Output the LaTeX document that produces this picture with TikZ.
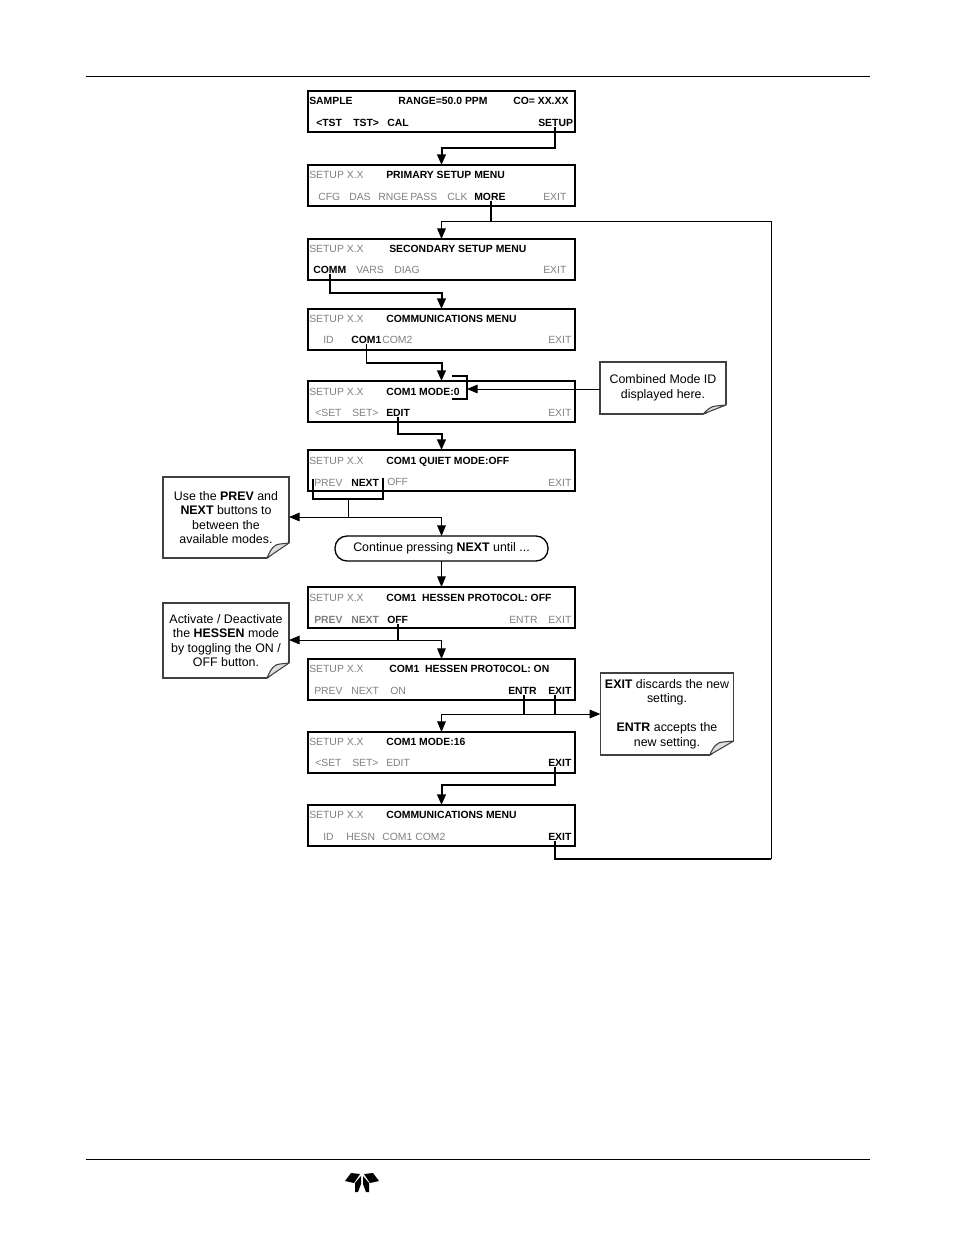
\documentclass[tikz,border=0pt]{standalone}
\usepackage{fontspec}
\setmainfont{Liberation Sans}
\usetikzlibrary{positioning, arrows.meta, calc}

\definecolor{dimtext}{gray}{0.5}
\definecolor{noteline}{gray}{0.25}

% turned-up corner of a note: node, corner width, corner height
\newcommand{\notefold}[3]{
    \fill[white] ($(#1.south east)+(-#2,1)$) -- ($(#1.south east)+(1,1)$) -- ($(#1.south east)+(1,-#3)$) -- cycle;
    \draw[draw=noteline, fill=gray!25, line width=0.8pt, line join=round]
        ($(#1.south east)+(-#2,0)$) .. controls ($(#1.south east)+(-#2+4,-#3+5)$) and ($(#1.south east)+(-#2+8,-#3+1)$) .. ($(#1.south east)+(-#2+13,-#3+1)$)
        -- ($(#1.south east)+(0,-#3)$) -- cycle;
}

\begin{document}
\begin{tikzpicture}[
    x=0.75pt,
    y=-0.75pt,
    panel/.style={
        rectangle,
        draw=black,
        line width=1.5pt,
        minimum width=200.25pt,
        minimum height=30.75pt,
        outer sep=0pt,
        inner sep=0pt
    },
    dim/.style={
        anchor=base west,
        yshift=-3.2pt,
        inner sep=0pt,
        text=dimtext,
        font=\fontsize{7.8}{9}\selectfont
    },
    dimb/.style={
        dim,
        font=\fontsize{7.8}{9}\selectfont\bfseries
    },
    lit/.style={
        anchor=base west,
        yshift=-3.2pt,
        inner sep=0pt,
        font=\fontsize{7.8}{9}\selectfont\bfseries
    },
    note/.style={
        rectangle,
        draw=noteline,
        line width=0.9pt,
        align=center,
        inner sep=0pt,
        outer sep=0pt,
        font=\fontsize{9.3}{10.9}\selectfont
    },
    pill/.style={
        rectangle,
        rounded corners=9pt,
        draw=black,
        line width=1pt,
        minimum width=159.75pt,
        minimum height=18.75pt,
        inner sep=0pt,
        outer sep=0pt,
        font=\fontsize{9.3}{10.9}\selectfont
    },
    flow/.style={
        -{Triangle[length=8pt,width=6.5pt]},
        line width=1.5pt
    },
    flowthin/.style={
        -{Triangle[length=8pt,width=6.5pt]},
        line width=0.7pt
    },
    wire/.style={
        line width=1.5pt
    },
    wirethin/.style={
        line width=0.7pt
    },
    rule/.style={
        line width=0.6pt
    }
]
    \useasboundingbox (0,0) rectangle (954,1235);

    % -- Page rules and logo --
    \coordinate (headL) at (86,76);
    \coordinate (headR) at (870,76);
    \coordinate (footL) at (86,1159);
    \coordinate (footR) at (870,1159);
    \draw[rule] (headL) -- (headR);
    \draw[rule] (footL) -- (footR);
    \fill (360,1174) -- (351,1173) -- (345,1181) -- (354,1183) -- cycle;
    \fill (361,1176) -- (355,1183) -- (355,1192) -- (358,1192) -- (361,1184) -- cycle;
    \fill (364,1174) -- (373,1173) -- (379,1181) -- (370,1183) -- cycle;
    \fill (363,1176) -- (369,1183) -- (369,1192) -- (366,1192) -- (363,1184) -- cycle;

    % -- Display panels --
    \node[panel] (panel0) at (441.5,111.5) {};
    \node[panel, below=24.75pt of panel0] (panel1) {};
    \node[panel, below=24.75pt of panel1] (panel2) {};
    \node[panel, below=21.75pt of panel2] (panel3) {};
    \node[panel, below=23.25pt of panel3] (panel4) {};
    \node[panel, below=21pt of panel4] (panel5) {};
    \node[pill, below=33.75pt of panel5] (cont) {Continue pressing \textbf{NEXT} until ...};
    \node[panel, below=19.5pt of cont] (panel6) {};
    \node[panel, below=23.25pt of panel6] (panel7) {};
    \node[panel, below=24pt of panel7] (panel8) {};
    \node[panel, below=24pt of panel8] (panel9) {};

    % -- Panel 0: sample --
    \node[lit] (sample) at (309,100) {SAMPLE};
    \node[lit] (range) at (398,100) {RANGE=50.0 PPM};
    \node[lit] (conc) at (513,100) {CO= XX.XX};
    \node[lit] (tstL) at (316,122) {<TST};
    \node[lit] (tstR) at (353,122) {TST>};
    \node[lit] (cal) at (387,122) {CAL};
    \node[lit] (setup) at (538,122) {SETUP};

    % -- Panel 1: primary setup --
    \node[dim] (ver1) at (309,174) {SETUP X.X};
    \node[lit] (title1) at (386,174) {PRIMARY SETUP MENU};
    \node[dim] (cfg) at (318,196) {CFG};
    \node[dim] (das) at (349,196) {DAS};
    \node[dim] (rnge) at (378,196) {RNGE};
    \node[dim] (pass) at (410,196) {PASS};
    \node[dim] (clk) at (447,196) {CLK};
    \node[lit] (more) at (474,196) {MORE};
    \node[dim] (exit1) at (543,196) {EXIT};

    % -- Panel 2: secondary setup --
    \node[dim] (ver2) at (309,248) {SETUP X.X};
    \node[lit] (title2) at (389,248) {SECONDARY SETUP MENU};
    \node[lit] (comm) at (313,269) {COMM};
    \node[dim] (vars) at (356,269) {VARS};
    \node[dim] (diag) at (394,269) {DIAG};
    \node[dim] (exit2) at (543,269) {EXIT};

    % -- Panel 3: communications --
    \node[dim] (ver3) at (309,318) {SETUP X.X};
    \node[lit] (title3) at (386,318) {COMMUNICATIONS MENU};
    \node[dim] (id3) at (323,339) {ID};
    \node[lit] (comA3) at (351,339) {COM1};
    \node[dim] (comB3) at (382,339) {COM2};
    \node[dim] (exit3) at (548,339) {EXIT};

    % -- Panel 4: mode 0 --
    \node[dim] (ver4) at (309,391) {SETUP X.X};
    \node[lit] (title4) at (386,391) {COM1 MODE:0};
    \node[dim] (setL4) at (315,412) {<SET};
    \node[dim] (setR4) at (352,412) {SET>};
    \node[lit] (edit4) at (386,412) {EDIT};
    \node[dim] (exit4) at (548,412) {EXIT};

    % -- Panel 5: quiet mode --
    \node[dim] (ver5) at (309,460) {SETUP X.X};
    \node[lit] (title5) at (386,460) {COM1 QUIET MODE:OFF};
    \node[dim] (prev5) at (314,482) {PREV};
    \node[lit] (next5) at (351,482) {NEXT};
    \node[dim] (off5) at (387,481) {OFF};
    \node[dim] (exit5) at (548,482) {EXIT};

    % -- Panel 6: hessen off --
    \node[dim] (ver6) at (309,597) {SETUP X.X};
    \node[lit] (title6) at (386,597) {COM1~ HESSEN PROT0COL: OFF};
    \node[dimb] (prev6) at (314,619) {PREV};
    \node[dimb] (next6) at (351,619) {NEXT};
    \node[lit] (off6) at (387,619) {OFF};
    \node[dim] (entr6) at (509,619) {ENTR};
    \node[dim] (exit6) at (548,619) {EXIT};

    % -- Panel 7: hessen on --
    \node[dim] (ver7) at (309,668) {SETUP X.X};
    \node[lit] (title7) at (389,668) {COM1~ HESSEN PROT0COL: ON};
    \node[dim] (prev7) at (314,690) {PREV};
    \node[dim] (next7) at (351,690) {NEXT};
    \node[dim] (on7) at (390,690) {ON};
    \node[lit] (entr7) at (508,690) {ENTR};
    \node[lit] (exit7) at (548,690) {EXIT};

    % -- Panel 8: mode 16 --
    \node[dim] (ver8) at (309,741) {SETUP X.X};
    \node[lit] (title8) at (386,741) {COM1 MODE:16};
    \node[dim] (setL8) at (315,762) {<SET};
    \node[dim] (setR8) at (352,762) {SET>};
    \node[dim] (edit8) at (386,762) {EDIT};
    \node[lit] (exit8) at (548,762) {EXIT};

    % -- Panel 9: communications with HESN --
    \node[dim] (ver9) at (309,814) {SETUP X.X};
    \node[lit] (title9) at (386,814) {COMMUNICATIONS MENU};
    \node[dim] (id9) at (323,836) {ID};
    \node[dim] (hesn) at (346,836) {HESN};
    \node[dim] (comA9) at (382,836) {COM1};
    \node[dim] (comB9) at (415,836) {COM2};
    \node[lit] (exit9) at (548,836) {EXIT};

    % -- Notes --
    \node[note, minimum width=94.5pt, minimum height=60.75pt] (notePrev) at (226,517.5)
        {Use the \textbf{PREV} and\\ \textbf{NEXT} buttons to\\ between the\\ available modes.};
    \node[note, minimum width=94.5pt, minimum height=56.25pt] (noteHessen) at (226,640.5)
        {Activate / Deactivate\\ the \textbf{HESSEN} mode\\ by toggling the ON /\\ OFF button.};
    \node[note, minimum width=94.5pt, minimum height=39pt] (noteMode) at (663,388)
        {Combined Mode ID\\ displayed here.};
    \node[note, minimum width=100pt, minimum height=61.5pt] (noteExit) at (667,714)
        {\textbf{EXIT} discards the new\\ setting.\\[10.9pt] \textbf{ENTR} accepts the\\ new setting.};
    \notefold{notePrev}{22}{15}
    \notefold{noteHessen}{22}{15}
    \notefold{noteMode}{23}{9}
    \notefold{noteExit}{24}{14}

    % -- Turning points of the connectors --
    \coordinate (turn0) at (441.5,148);
    \coordinate (turn1) at (441.5,221);
    \coordinate (far1) at (771,221);
    \coordinate (far9) at (771,859);
    \coordinate (tee1) at (491,221);
    \coordinate (turn2) at (441.5,293);
    \coordinate (turn3) at (441.5,363);
    \coordinate (turn4) at (441.5,434);
    \coordinate (brkA) at (452,376);
    \coordinate (brkB) at (467,376);
    \coordinate (brkC) at (467,399);
    \coordinate (brkD) at (452,399);
    \coordinate (brkTip) at (467,389);
    \coordinate (nextA) at (313,479);
    \coordinate (nextB) at (313,499);
    \coordinate (nextC) at (383,499);
    \coordinate (nextD) at (383,478);
    \coordinate (nextTee) at (348,499);
    \coordinate (split5) at (348,517);
    \coordinate (turn5) at (441.5,517);
    \coordinate (split6) at (398,640);
    \coordinate (turn6) at (441.5,640);
    \coordinate (split7A) at (524,714);
    \coordinate (split7B) at (555,714);
    \coordinate (turn7) at (441.5,714);
    \coordinate (turn8) at (441.5,785);

    % -- Connectors --
    \draw[flow] ([xshift=-0.75pt]setup.south) |- (turn0) -- (panel1.north);
    \draw[wire] (tee1 |- more.south) -- (tee1);
    \draw[flowthin] (tee1) -- (turn1) -- (panel2.north);
    \draw[wirethin] (tee1) -- (far1) -- (far9);
    \draw[wire] (far9) -| ([xshift=-3.75pt]exit9.south);
    \draw[flow] (comm.south) |- (turn2) -- (panel3.north);
    \draw[wirethin] (comA3.south) -- (comA3.south |- turn3);
    \draw[flow] (comA3.south |- turn3) -- (turn3) -- (panel4.north);
    \draw[wire] (brkA) -- (brkB) -- (brkC) -- (brkD);
    \draw[flowthin] (noteMode.west |- brkTip) -- (brkTip);
    \draw[flow] (edit4.south) |- (turn4) -- (panel5.north);
    \draw[wire] (nextA) -- (nextB) -- (nextC) -- (nextD);
    \draw[wirethin] (nextTee) -- (split5);
    \draw[flowthin] (split5) -- (split5 -| notePrev.east);
    \draw[flowthin] (split5) -- (turn5) -- (cont.north);
    \draw[flowthin] (cont.south) -- (panel6.north);
    \draw[wire] (split6 |- off6.south) -- (split6);
    \draw[flowthin] (split6) -- (split6 -| noteHessen.east);
    \draw[flowthin] (split6) -- (turn6) -- (panel7.north);
    \draw[wire] (split7A |- entr7.south) -- (split7A);
    \draw[wire] (split7B |- exit7.south) -- (split7B);
    \draw[flowthin] (split7A) -- (turn7) -- (panel8.north);
    \draw[flowthin] (split7A) -- (noteExit.west);
    \draw[flow] ([xshift=-3.75pt]exit8.south) |- (turn8) -- (panel9.north);
\end{tikzpicture}
\end{document}
